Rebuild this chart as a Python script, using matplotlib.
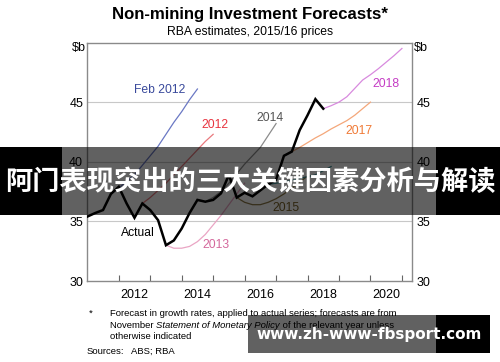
import matplotlib
matplotlib.use('Agg')
import matplotlib.pyplot as plt
from matplotlib.patches import Rectangle
import numpy as np

# ---------------- data ----------------
actual_start = 2011.0
actual_values = [35.4, 35.7, 35.95, 37.3, 37.9, 36.5, 35.3, 36.5, 35.95, 35.1,
                 33.0, 33.4, 34.4, 35.7, 36.8, 36.65, 36.8, 37.35, 38.9, 37.0,
                 37.4, 37.1, 37.6, 38.1, 38.5, 40.5, 40.85, 42.65, 43.9, 45.25,
                 44.45]

feb2012_start = 2011.75
feb2012_values = [37.3, 37.8, 38.35, 38.9, 39.7, 40.5, 41.3, 42.3, 43.3, 44.2, 45.2, 46.1]

f2012_start = 2012.75
f2012_values = [36.5, 37.0, 37.6, 38.2, 38.9, 39.6, 40.3, 41.0, 41.7, 42.3]

f2013_start = 2013.5
f2013_values = [33.0, 32.75, 32.75, 32.9, 33.3, 33.9, 34.7, 35.5, 36.4, 37.3, 38.2]

f2014_start = 2014.75
f2014_values = [36.65, 37.0, 37.5, 38.2, 39.0, 39.8, 40.5, 41.2, 42.2, 43.2]

f2015_start = 2015.75
f2015_values = [37.0, 36.6, 36.4, 36.4, 36.6, 36.9, 37.3, 37.8, 38.3, 38.8]

f2016_start = 2016.75
f2016_values = [38.1, 38.2, 38.3, 38.45, 38.6, 38.75, 38.9, 39.25, 39.6]

f2017_start = 2017.5
f2017_values = [40.85, 41.2, 41.6, 42.0, 42.35, 42.75, 43.1, 43.45, 43.9, 44.45, 45.0]

f2018_start = 2018.5
f2018_values = [44.45, 44.7, 45.0, 45.45, 46.15, 46.85, 47.3, 47.8, 48.35, 48.9, 49.5]

year_labels = ['2012', '2014', '2016', '2018', '2020']
y_ticks = [30, 35, 40, 45]

series = [
    # name, start, values, line colour, label colour, label pos (year, value) or None
    ('Feb 2012', feb2012_start, feb2012_values, '#6a78c4', '#3a4a9c', (2013.30, 46.0)),
    ('2012', f2012_start, f2012_values, '#e9797e', '#e8343f', (2015.05, 43.1)),
    ('2013', f2013_start, f2013_values, '#eaa5c4', '#d4689c', (2015.10, 33.0)),
    ('2014', f2014_start, f2014_values, '#8c8c8c', '#555555', (2016.80, 43.7)),
    ('2015', f2015_start, f2015_values, '#8e7a48', '#7a6328', (2017.30, 36.15)),
    ('2016', f2016_start, f2016_values, '#3f8f96', '#3f8f96', None),
    ('2017', f2017_start, f2017_values, '#f4a77a', '#f07a36', (2019.64, 42.6)),
    ('2018', f2018_start, f2018_values, '#d88ade', '#c43cc4', (2020.49, 46.5)),
]

# ---------------- figure ----------------
W, H = 500, 362
fig = plt.figure(figsize=(W / 100, H / 100), dpi=100)
fig.patch.set_facecolor('white')
FONT = ['Liberation Sans', 'DejaVu Sans']

ax = fig.add_axes([87.3 / W, 1 - 281 / H, (412.3 - 87.3) / W, (281 - 42.5) / H])
ax.set_xlim(2011.0, 2021.33)
ax.set_ylim(30, 50)

for y in [35, 40, 45]:
    ax.axhline(y, color='#c8c8c8', lw=0.8, zorder=1)

def qx(start, vals):
    return start + 0.25 * np.arange(len(vals))

for name, start, vals, lc, tc, pos in series:
    ax.plot(qx(start, vals), vals, color=lc, lw=0.9, zorder=3)
    if pos is not None:
        ax.text(pos[0], pos[1], name, color=tc, fontsize=8.7, family=FONT,
                ha='center', va='center', zorder=4)

ax.plot(qx(actual_start, actual_values), actual_values, color='black', lw=1.8,
        zorder=5, solid_joinstyle='miter')
ax.text(2012.6, 34.05, 'Actual', color='black', fontsize=8.7, family=FONT,
        ha='center', va='center')

for s in ax.spines.values():
    s.set_color('#8a8a8a')
    s.set_linewidth(1.0)

ax.set_xticks(np.arange(2012, 2022, 1))
ax.set_xticklabels([])
ax.set_xticks([int(t) + 0.5 for t in year_labels], minor=True)
ax.set_xticklabels(year_labels, minor=True)
ax.tick_params(axis='x', which='major', direction='in', length=4, color='#666666', width=0.8)
ax.tick_params(axis='x', which='minor', length=0, pad=6, labelsize=9)
ax.set_yticks(y_ticks)
ax.tick_params(axis='y', which='both', length=0, labelsize=9, pad=3,
               labelleft=True, labelright=True)
for lab in ax.get_xticklabels(minor=True) + ax.get_yticklabels():
    lab.set_family(FONT)

fig.text(78.5 / W, 1 - 48.3 / H, '$b', fontsize=9, family=FONT, ha='center', va='center')
fig.text(420.5 / W, 1 - 48.3 / H, '$b', fontsize=9, family=FONT, ha='center', va='center')

fig.text(0.5, 1 - 15 / H, 'Non-mining Investment Forecasts*', fontsize=12.1,
         fontweight='bold', family=FONT, ha='center', va='center')
fig.text(0.5, 1 - 32.5 / H, 'RBA estimates, 2015/16 prices', fontsize=8.7,
         family=FONT, ha='center', va='center')

# footnotes
fs = 6.8
fig.text(88.3 / W, 1 - 313.3 / H, '*', fontsize=fs, family=FONT, va='center')
fig.text(110 / W, 1 - 313.3 / H,
         'Forecast in growth rates, applied to actual series; forecasts are from',
         fontsize=fs, family=FONT, va='center')
fig.canvas.draw()
r = fig.canvas.get_renderer()
t1 = fig.text(110 / W, 1 - 325 / H, 'November ', fontsize=fs, family=FONT, va='center')
bb = t1.get_window_extent(r)
t2 = fig.text(bb.x1 / W, 1 - 325 / H, 'Statement of Monetary Policy', fontsize=fs,
              family=FONT, style='italic', va='center')
bb = t2.get_window_extent(r)
fig.text(bb.x1 / W, 1 - 325 / H, ' of the relevant year unless', fontsize=fs,
         family=FONT, va='center')
fig.text(110 / W, 1 - 336.7 / H, 'otherwise indicated', fontsize=fs, family=FONT, va='center')
fig.text(86.7 / W, 1 - 351 / H, 'Sources:', fontsize=fs, family=FONT, va='center')
fig.text(131 / W, 1 - 351 / H, 'ABS; RBA', fontsize=fs, family=FONT, va='center')

# ---------------- overlay banners ----------------
def px_rect(x0, y0, x1, y1, color, alpha):
    fig.patches.append(Rectangle((x0 / W, 1 - y1 / H), (x1 - x0) / W, (y1 - y0) / H,
                                 transform=fig.transFigure, facecolor=color,
                                 alpha=alpha, edgecolor='none', zorder=20))

px_rect(0, 147, 62, 215, 'black', 1.0)
px_rect(62, 147, 436, 215, 'black', 0.62)
px_rect(436, 147, 500, 215, 'black', 1.0)
fig.text(0.5, 1 - 182 / H, '阿门表现突出的三大关键因素分析与解读', fontsize=19.6,
         fontweight='bold', color='white', family=['Noto Sans CJK SC', 'DejaVu Sans'],
         ha='center', va='center', zorder=21)

px_rect(248, 315, 436, 353, 'black', 0.62)
px_rect(436, 315, 490, 353, 'black', 1.0)
fig.text(369 / W, 1 - 334 / H, 'www.zh-www-fbsport.com', fontsize=11.0,
         fontweight='bold', color='white', family=['DejaVu Sans'],
         ha='center', va='center', zorder=21)

fig.savefig('out.png', dpi=100)
